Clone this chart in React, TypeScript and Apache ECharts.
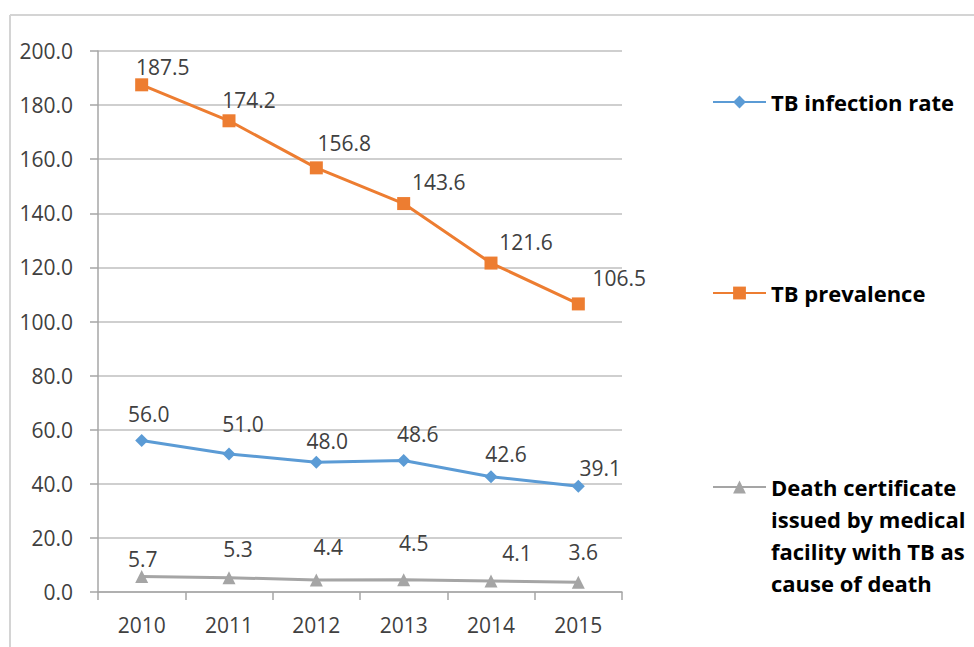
import React, { useEffect, useRef } from "react";
import * as echarts from "echarts";

const years = ["2010", "2011", "2012", "2013", "2014", "2015"];
const infectionRate = [56.0, 51.0, 48.0, 48.6, 42.6, 39.1];
const prevalence = [187.5, 174.2, 156.8, 143.6, 121.6, 106.5];
const deathCert = [5.7, 5.3, 4.4, 4.5, 4.1, 3.6];
const seriesNames = [
  "TB infection rate",
  "TB prevalence",
  "Death certificate issued by medical facility with TB as cause of death",
];
const deathLegendLines = ["Death certificate", "issued by medical", "facility with TB as", "cause of death"];

// label offsets (px) relative to each marker
const infectionOffsets = [[7, -27], [14, -30], [11, -21], [14, -27], [15, -23], [22, -18]];
const prevalenceOffsets = [[21, -18], [20, -21], [28, -25], [35, -22], [35, -21], [41, -26]];
const deathOffsets = [[1, -18], [9, -29], [12, -33], [10, -37], [26, -28], [5, -30]];

const FONT = "'Open Sans', 'Noto Sans', sans-serif";
const TEXT = "#404040";

function withOffsets(values: number[], offsets: number[][]) {
  return values.map((v, i) => ({ value: v, label: { offset: offsets[i] } }));
}

export default function App() {
  const ref = useRef<HTMLDivElement>(null);
  useEffect(() => {
    if (!ref.current) return;
    const chart = echarts.init(ref.current, null, { renderer: "svg" });
    const labelBase = {
      show: true,
      position: "inside",
      color: TEXT,
      fontFamily: FONT,
      fontSize: 21,
      formatter: (p: any) => Number(p.value).toFixed(1),
    };
    const legendText = {
      fontFamily: FONT,
      fontSize: 22,
      fontWeight: "bold",
      color: "#000",
      lineHeight: 32,
    };
    const legendCommon = {
      left: 712, orient: "vertical", padding: 0,
      itemWidth: 53, itemHeight: 16, selectedMode: false, textStyle: legendText,
    };
    chart.setOption({
      animation: false,
      backgroundColor: "#fff",
      graphic: [
        { type: "line", shape: { x1: 10, y1: 15, x2: 974, y2: 15 }, style: { stroke: "#d4d4d4", lineWidth: 2 } },
        { type: "line", shape: { x1: 10, y1: 15, x2: 10, y2: 647 }, style: { stroke: "#d4d4d4", lineWidth: 2 } },
      ],
      grid: { left: 98, right: 352, top: 51, bottom: 55, containLabel: false },
      legend: [
        { ...legendCommon, data: [seriesNames[0]], top: 86 },
        { ...legendCommon, data: [seriesNames[1]], top: 277 },
        {
          ...legendCommon, data: [seriesNames[2]], top: 375,
          formatter: () => "\n\n\n" + deathLegendLines.join("\n"),
        },
      ],
      xAxis: {
        type: "category",
        data: years,
        boundaryGap: true,
        axisLine: { lineStyle: { color: "#a6a6a6", width: 1.5 } },
        axisTick: { show: true, length: 8, lineStyle: { color: "#a6a6a6", width: 1.5 } },
        axisLabel: { color: TEXT, fontFamily: FONT, fontSize: 21, margin: 22 },
      },
      yAxis: {
        type: "value",
        min: 0,
        max: 200,
        interval: 20,
        axisLine: { show: true, lineStyle: { color: "#a6a6a6", width: 1.5 } },
        axisTick: { show: true, length: 8, lineStyle: { color: "#a6a6a6", width: 1.5 } },
        splitLine: { lineStyle: { color: "#bfbfbf", width: 1.5 } },
        axisLabel: {
          color: TEXT, fontFamily: FONT, fontSize: 21, margin: 25,
          formatter: (v: number) => v.toFixed(1),
        },
      },
      series: [
        {
          name: seriesNames[0], type: "line", data: withOffsets(infectionRate, infectionOffsets),
          symbol: "diamond", symbolSize: 13,
          lineStyle: { color: "#5b9bd5", width: 3 }, itemStyle: { color: "#5b9bd5" },
          label: labelBase,
        },
        {
          name: seriesNames[1], type: "line", data: withOffsets(prevalence, prevalenceOffsets),
          symbol: "rect", symbolSize: 13,
          lineStyle: { color: "#ed7d31", width: 3 }, itemStyle: { color: "#ed7d31" },
          label: labelBase,
        },
        {
          name: seriesNames[2], type: "line", data: withOffsets(deathCert, deathOffsets),
          symbol: "triangle", symbolSize: 13,
          lineStyle: { color: "#a5a5a5", width: 3 }, itemStyle: { color: "#a5a5a5" },
          label: labelBase,
        },
      ],
    });
    return () => chart.dispose();
  }, []);
  return (
    <div
      ref={ref}
      style={{ position: "fixed", left: 0, top: 0, width: 974, height: 647, background: "#fff" }}
    />
  );
}
